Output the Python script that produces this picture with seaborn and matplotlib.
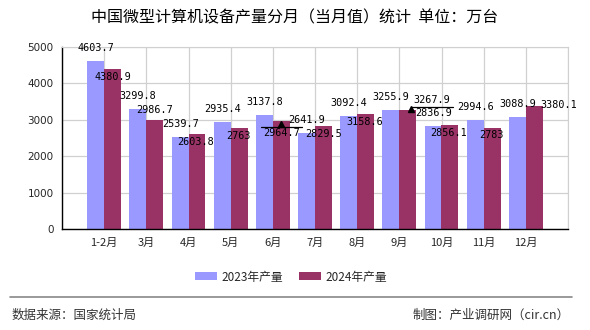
import matplotlib
matplotlib.use("Agg")
import matplotlib.pyplot as plt
import seaborn as sns
import pandas as pd
from matplotlib.lines import Line2D
from matplotlib.patches import Patch

months = ["1-2月", "3月", "4月", "5月", "6月", "7月", "8月", "9月", "10月", "11月", "12月"]
prod_2023 = [4603.7, 3299.8, 2539.7, 2935.4, 3137.8, 2641.9, 3092.4, 3255.9, 2836.9, 2994.6, 3088.9]
prod_2024 = [4380.9, 2986.7, 2603.8, 2763, 2964.7, 2829.5, 3158.6, 3267.9, 2856.1, 2783, 3380.1]
series_names = ["2023年产量", "2024年产量"]
y_ticks = [0, 1000, 2000, 3000, 4000, 5000]

# label placement (pixel offsets of label centre from bar top) - style only
off_2023 = [(0, 13)] * 11
off_2024 = [(0, -8), (0, 10), (-1, -8), (-1, -7.5), (0, -12), (0, -8),
            (-1, -8), (24, 10), (-1, -8), (-1, -7), (24, 1)]

sns.set_style("white")
plt.rcParams['font.family'] = ['Noto Sans CJK SC', 'DejaVu Sans']

df = pd.DataFrame({
    "month": months * 2,
    "series": [series_names[0]] * len(months) + [series_names[1]] * len(months),
    "value": prod_2023 + prod_2024,
})

fig = plt.figure(figsize=(5.9, 3.3), dpi=100)
ax = fig.add_axes([62 / 590, (330 - 229.3) / 330, (568 - 62) / 590, (229.3 - 46.8) / 330])
palette = {series_names[0]: "#9999FF", series_names[1]: "#993366"}
sns.barplot(data=df, x="month", y="value", hue="series", order=months,
            hue_order=series_names, palette=palette, saturation=1,
            width=0.8, legend=False, ax=ax, zorder=2, linewidth=0, edgecolor="none")

ax.set_xlim(-1, len(months))
ax.set_ylim(0, 5000)
ax.set_yticks(y_ticks)
ax.set_yticklabels([str(t) for t in y_ticks], fontsize=7.5, family="DejaVu Sans")
ax.set_xticks(range(-1, len(months) + 1))
ax.set_xticklabels([""] + months + [""], fontsize=8)
ax.set_xlabel("")
ax.set_ylabel("")
ax.set_axisbelow(True)
ax.grid(True, color="#d0d0d0", lw=0.9)
for s in ["top", "right"]:
    ax.spines[s].set_color("#d0d0d0")
for s in ["left", "bottom"]:
    ax.spines[s].set_color("black")
    ax.spines[s].set_linewidth(1.0)
ax.tick_params(axis="both", direction="out", length=4, width=0.9, color="black", pad=2)

# data labels
fig.canvas.draw()
for vals, offs, dxo in [(prod_2023, off_2023, -0.2), (prod_2024, off_2024, 0.2)]:
    for i, v in enumerate(vals):
        ax.annotate(f"{v:g}", xy=(i + dxo, v), xytext=offs[i], textcoords="offset pixels",
                    ha="center", va="center", fontsize=7.3, family="DejaVu Sans Mono",
                    color="black", zorder=5)

# leader marks
def disp(x, y):
    return ax.transData.transform((x, y))

px, py = disp(4 + 0.2, prod_2024[4])
fig.add_artist(Line2D([px - 20, px + 21], [py - 6, py - 6], transform=None, color="black", lw=0.9))
fig.add_artist(Line2D([px], [py - 3], transform=None, marker="^", color="black", markersize=5, lw=0))
px, py = disp(7 + 0.2, prod_2024[7])
fig.add_artist(Line2D([px + 3.5, px + 45], [py + 3, py + 3], transform=None, color="black", lw=0.9))
fig.add_artist(Line2D([px + 3.5], [py + 1], transform=None, marker="^", color="black", markersize=5, lw=0))

fig.text(294.5 / 590, 1 - 18 / 330, "中国微型计算机设备产量分月（当月值）统计  单位：万台",
         ha="center", va="center", fontsize=11.5, color="black")

handles = [Patch(facecolor=palette[n], edgecolor="none", label=n) for n in series_names]
fig.legend(handles=handles, loc="center", bbox_to_anchor=(291 / 590, 1 - 277 / 330), ncol=2,
           frameon=False, fontsize=8.5, handlelength=1.86, handleheight=0.68,
           handletextpad=0.35, columnspacing=1.35)

fig.add_artist(Line2D([10 / 590, 572 / 590], [1 - 297 / 330] * 2, color="#888888", lw=1.2))
fig.text(12 / 590, 1 - 315 / 330, "数据来源：国家统计局", ha="left", va="center",
         fontsize=9, color="#333333")
fig.text(570 / 590, 1 - 315 / 330, "制图：产业调研网（cir.cn）", ha="right", va="center",
         fontsize=9, color="#333333")

fig.savefig("out.png", dpi=100)
